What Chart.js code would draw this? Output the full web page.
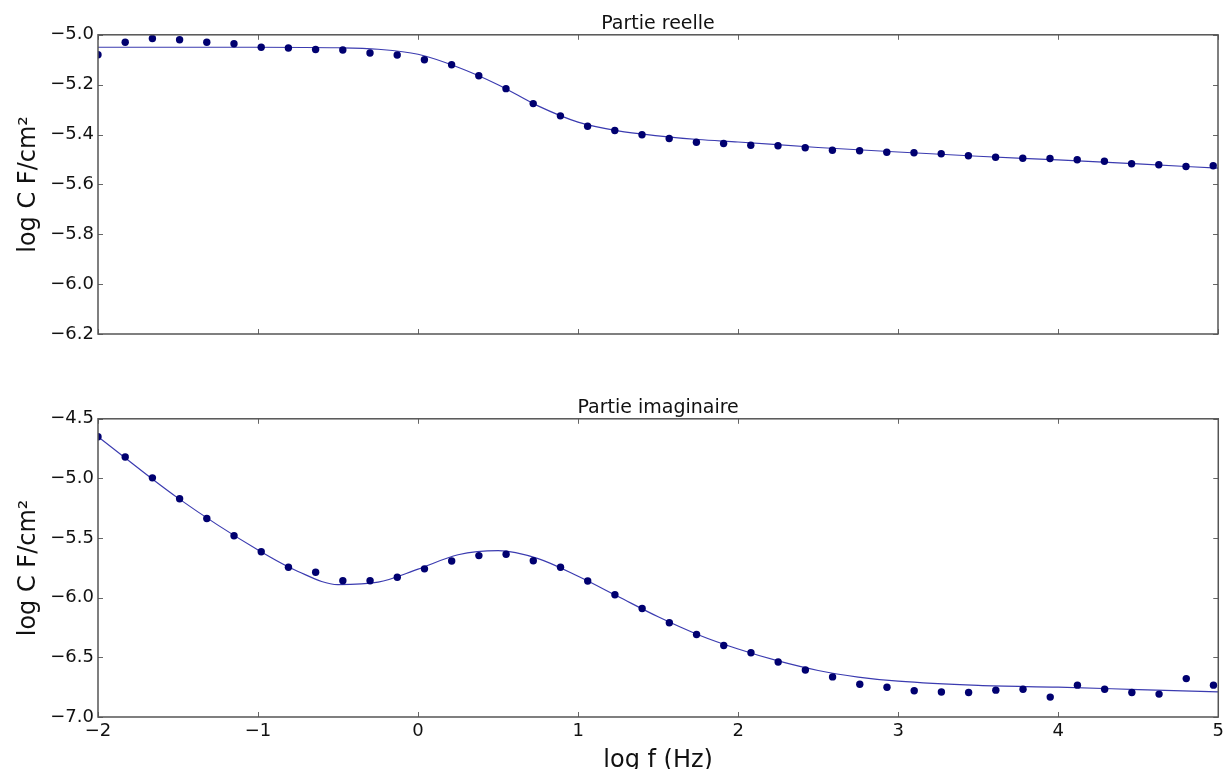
<!DOCTYPE html>
<html>
<head>
<meta charset="utf-8">
<script src="https://cdn.jsdelivr.net/npm/chart.js@4.4.1/dist/chart.umd.min.js"></script>
<style>
  html, body { margin: 0; padding: 0; background: #fff; overflow: hidden; width: 1223px; height: 769px; position: relative; }
  canvas { position: absolute; left: 0; }
  #c1 { top: 0; }
  #c2 { top: 384px; }
</style>
</head>
<body>
<canvas id="c1" width="1223" height="384"></canvas>
<canvas id="c2" width="1228" height="400"></canvas>
<script>
// ---- data ----
const logF = [-2.00, -1.83, -1.66, -1.49, -1.32, -1.15, -0.98, -0.81, -0.64, -0.47, -0.30, -0.13,
  0.04, 0.21, 0.38, 0.55, 0.72, 0.89, 1.06, 1.23, 1.40, 1.57, 1.74, 1.91, 2.08, 2.25, 2.42,
  2.59, 2.76, 2.93, 3.10, 3.27, 3.44, 3.61, 3.78, 3.95, 4.12, 4.29, 4.46, 4.63, 4.80, 4.97];

const realMeas = [-5.08, -5.03, -5.015, -5.02, -5.03, -5.036, -5.05, -5.053, -5.059, -5.061, -5.073, -5.081,
  -5.10, -5.12, -5.164, -5.216, -5.276, -5.325, -5.367, -5.384, -5.401, -5.416, -5.431, -5.436, -5.443, -5.445, -5.453,
  -5.463, -5.465, -5.471, -5.473, -5.477, -5.485, -5.491, -5.495, -5.496, -5.501, -5.507, -5.517, -5.521, -5.528, -5.525];

const imagMeas = [-4.65, -4.82, -4.995, -5.17, -5.336, -5.48, -5.614, -5.745, -5.786, -5.858, -5.858, -5.828,
  -5.758, -5.692, -5.647, -5.636, -5.69, -5.745, -5.86, -5.975, -6.09, -6.21, -6.308, -6.40, -6.461, -6.539, -6.606,
  -6.664, -6.725, -6.75, -6.78, -6.79, -6.795, -6.775, -6.767, -6.833, -6.733, -6.767, -6.795, -6.808, -6.678, -6.733];

const realFitX = [-2, -1.5, -1, -0.5, -0.25, 0, 0.25, 0.5, 0.75, 1, 1.25, 1.5, 1.75, 2, 2.5, 3, 3.5, 4, 4.5, 5];
const realFit  = [-5.05, -5.05, -5.05, -5.052, -5.058, -5.078, -5.13, -5.20, -5.285, -5.35, -5.385, -5.405, -5.42, -5.43, -5.452, -5.47, -5.487, -5.502, -5.518, -5.535];

const imagFitX = [-2, -1.5, -1, -0.75, -0.5, -0.25, 0, 0.25, 0.5, 0.75, 1, 1.25, 1.5, 1.75, 2, 2.25, 2.5, 2.75, 3, 3.5, 4, 4.5, 5];
const imagFit  = [-4.65, -5.165, -5.60, -5.78, -5.89, -5.87, -5.76, -5.64, -5.605, -5.672, -5.82, -5.99, -6.16, -6.31, -6.43, -6.53, -6.61, -6.665, -6.70, -6.735, -6.75, -6.77, -6.79];

const xTicks = [-2, -1, 0, 1, 2, 3, 4, 5];
const realYTicks = [-6.2, -6.0, -5.8, -5.6, -5.4, -5.2, -5.0];
const imagYTicks = [-7.0, -6.5, -6.0, -5.5, -5.0, -4.5];

const titles = ['Partie reelle', 'Partie imaginaire'];
const xLabel = 'log f (Hz)';
const yLabel = 'log C F/cm²';

// ---- styling ----
const FONT = 'DejaVu Sans';
const pointColor = '#000070';
const lineColor = '#3b3bb0';
const minus = s => s.replace('-', '\u2212');

const frameTicks = {
  id: 'frameTicks',
  afterDatasetsDraw(chart) {
    const { ctx, chartArea: a, scales } = chart;
    const x = scales.x, y = scales.y;
    ctx.save();
    ctx.strokeStyle = '#666';
    ctx.lineWidth = 1;
    ctx.beginPath();
    x.ticks.forEach(t => {
      const px = Math.round(x.getPixelForValue(t.value)) + 0.5;
      ctx.moveTo(px, a.bottom); ctx.lineTo(px, a.bottom - 5);
      ctx.moveTo(px, a.top); ctx.lineTo(px, a.top + 5);
    });
    y.ticks.forEach(t => {
      const py = Math.round(y.getPixelForValue(t.value)) + 0.5;
      ctx.moveTo(a.left, py); ctx.lineTo(a.left + 5, py);
      ctx.moveTo(a.right, py); ctx.lineTo(a.right - 5, py);
    });
    ctx.stroke();
    ctx.strokeStyle = '#555';
    ctx.lineWidth = 1.5;
    ctx.strokeRect(a.left, a.top, a.right - a.left, a.bottom - a.top);
    ctx.restore();
  }
};

function makeChart(id, meas, fitX, fit, yTicks, title, showX, xHeight, padRight) {
  return new Chart(document.getElementById(id), {
    type: 'scatter',
    data: {
      datasets: [
        {
          data: logF.map((v, i) => ({ x: v, y: meas[i] })),
          showLine: false,
          pointRadius: 3.7,
          pointBackgroundColor: pointColor,
          pointBorderColor: pointColor,
          pointBorderWidth: 0
        },
        {
          data: fitX.map((v, i) => ({ x: v, y: fit[i] })),
          showLine: true,
          pointRadius: 0,
          borderColor: lineColor,
          borderWidth: 1.2,
          cubicInterpolationMode: 'monotone'
        }
      ]
    },
    options: {
      responsive: false,
      animation: false,
      devicePixelRatio: 1,
      layout: { padding: { right: padRight, left: 0, top: 0, bottom: 0 } },
      plugins: {
        legend: { display: false },
        tooltip: { enabled: false },
        title: {
          display: true,
          text: title,
          fullSize: false,
          color: '#111',
          font: { family: FONT, size: 19, weight: 'normal' },
          padding: { top: 13, bottom: -1 }
        }
      },
      scales: {
        x: {
          type: 'linear',
          min: -2, max: 5,
          afterBuildTicks: s => { s.ticks = xTicks.map(v => ({ value: v })); },
          grid: { display: false, drawTicks: false },
          border: { display: false },
          ticks: {
            display: showX,
            color: '#111',
            padding: 4,
            font: { family: FONT, size: 18 },
            callback: v => minus(String(v))
          },
          title: {
            display: showX,
            text: xLabel,
            color: '#111',
            font: { family: FONT, size: 24 },
            padding: { top: 0, bottom: 9 }
          },
          afterFit: s => { s.height = xHeight; }
        },
        y: {
          type: 'linear',
          min: yTicks[0], max: yTicks[yTicks.length - 1],
          afterBuildTicks: s => { s.ticks = yTicks.map(v => ({ value: v })); },
          grid: { display: false, drawTicks: false },
          border: { display: false },
          ticks: {
            color: '#111',
            padding: 4,
            font: { family: FONT, size: 18 },
            callback: v => minus(Number(v).toFixed(1))
          },
          title: {
            display: true,
            text: yLabel,
            color: '#111',
            font: { family: FONT, size: 24 },
            padding: { top: 14, bottom: 0 }
          },
          afterFit: s => { s.width = 98; }
        }
      }
    },
    plugins: [frameTicks]
  });
}

makeChart('c1', realMeas, realFitX, realFit, realYTicks, titles[0], false, 50, 5);
makeChart('c2', imagMeas, imagFitX, imagFit, imagYTicks, titles[1], true, 67, 0);
</script>
</body>
</html>
